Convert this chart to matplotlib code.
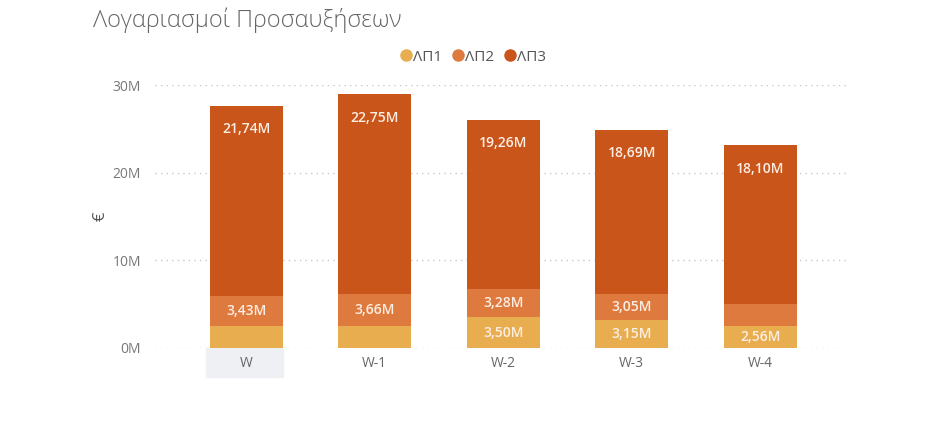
import numpy as np
import matplotlib.pyplot as plt
from matplotlib.patches import Rectangle

# -------------------------------------
# data (millions of euros)
# -------------------------------------
weeks = ["W", "W-1", "W-2", "W-3", "W-4"]
lp1 = [2.46, 2.52, 3.50, 3.15, 2.56]
lp2 = [3.43, 3.66, 3.28, 3.05, 2.45]
lp3 = [21.74, 22.75, 19.26, 18.69, 18.10]
series_names = ["ΛΠ1", "ΛΠ2", "ΛΠ3"]
# which segment labels are visible in the original
show_lp1 = [False, False, True, True, True]
show_lp2 = [True, True, True, True, False]
show_lp3 = [True, True, True, True, True]

colors = ["#E8AD4F", "#DF7A3E", "#C9551B"]
label_color = "#FDEEE4"

plt.rcParams['font.family'] = ['Open Sans', 'DejaVu Sans']

fig = plt.figure(figsize=(9.26, 4.47), dpi=100)
ax = fig.add_axes([0.1674, 0.2215, 0.7506, 0.5883])

x = np.arange(len(weeks))
w = 0.57
b2 = np.array(lp1)
b3 = b2 + np.array(lp2)

ax.bar(x, lp1, w, color=colors[0], zorder=3)
ax.bar(x, lp2, w, bottom=b2, color=colors[1], zorder=3)
ax.bar(x, lp3, w, bottom=b3, color=colors[2], zorder=3)

def fmt(v):
    return f"{v:.2f}M".replace(".", ",")

for i in range(len(weeks)):
    if show_lp1[i]:
        ax.text(x[i], lp1[i] / 2, fmt(lp1[i]), ha="center", va="center",
                color=label_color, fontsize=10, fontweight="semibold", zorder=4)
    if show_lp2[i]:
        ax.text(x[i], b2[i] + lp2[i] / 2, fmt(lp2[i]), ha="center", va="center",
                color=label_color, fontsize=10, fontweight="semibold", zorder=4)
    if show_lp3[i]:
        ax.annotate(fmt(lp3[i]), (x[i], b3[i] + lp3[i]), xytext=(0, -17),
                    textcoords="offset points", ha="center", va="center",
                    color=label_color, fontsize=10, fontweight="semibold", zorder=4)

# highlight of the selected category under the axis
ax.add_patch(Rectangle((x[0] - w / 2 - 0.03, 0), w + 0.03, -3.3, color="#EEF0F4",
                       clip_on=False, zorder=1))

ax.set_xlim(-0.71, 4.70)
ax.set_ylim(0, 30)
ax.set_yticks([0, 10, 20, 30])
ax.set_yticklabels(["0M", "10M", "20M", "30M"])
ax.set_xticks(x)
ax.set_xticklabels(weeks)
ax.tick_params(axis="both", length=0, labelsize=10, colors="#777777")
ax.tick_params(axis="x", pad=6, labelcolor="#666666")
ax.tick_params(axis="y", pad=10)
ax.grid(axis="y", color="#C8C8C8", linestyle=(0, (1, 3)), linewidth=1, zorder=0)
for s in ax.spines.values():
    s.set_visible(False)

ax.set_ylabel("€", color="#555555", fontsize=12, labelpad=3)

fig.text(0.1, 0.955, "Λογαριασμοί Προσαυξήσεων", fontsize=17, color="#666666",
         fontweight="light", ha="left", va="center")

# legend
handles = [plt.Line2D([], [], marker="o", linestyle="", markersize=8, color=c) for c in colors]
fig.legend(handles, series_names, loc="center", bbox_to_anchor=(0.509, 0.872), ncol=3,
           frameon=False, fontsize=11, handletextpad=-0.1, columnspacing=0.4,
           handlelength=1.2, labelcolor="#555555")

fig.savefig("out.png", dpi=100)
